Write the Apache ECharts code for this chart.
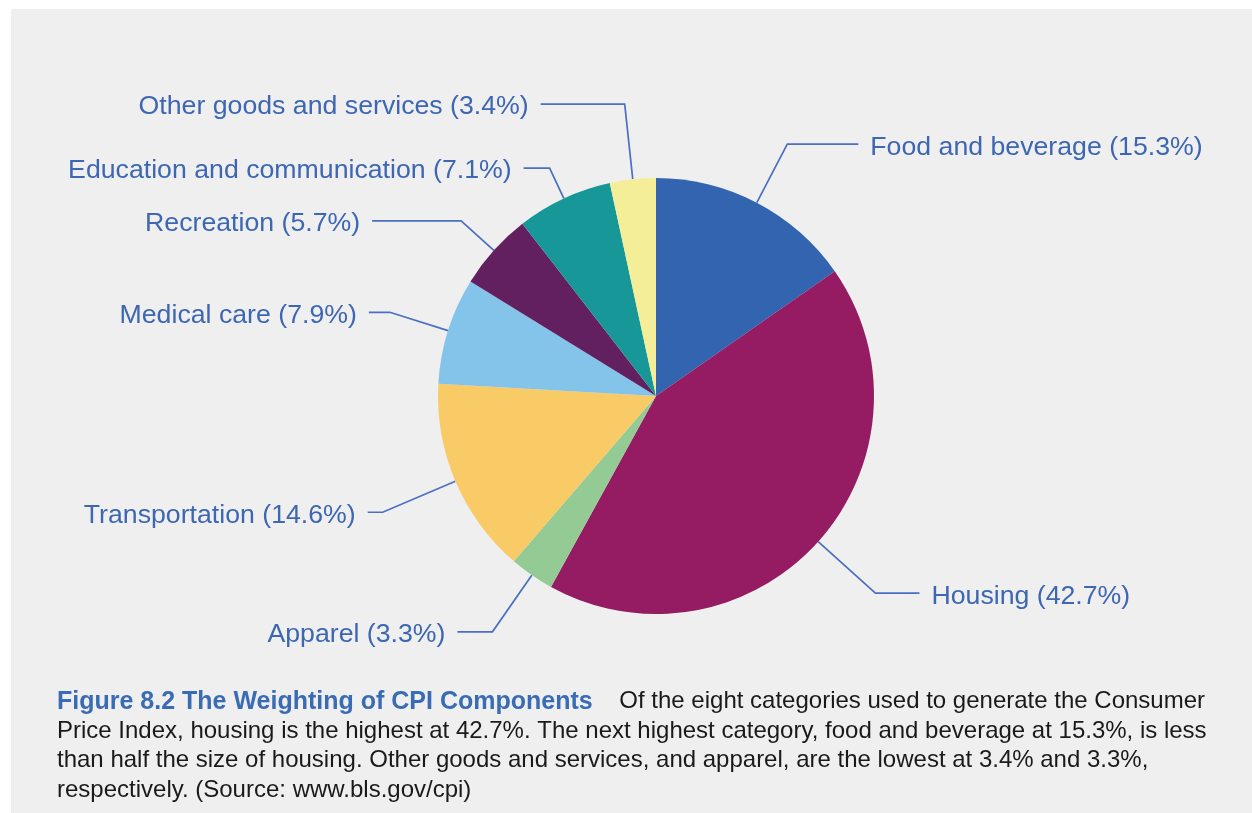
<!DOCTYPE html>
<html>
<head>
<meta charset="utf-8">
<script src="https://cdn.jsdelivr.net/npm/echarts@6/dist/echarts.min.js"></script>
<style>
  html, body { margin: 0; padding: 0; background: #ffffff; width: 1252px; height: 813px; overflow: hidden; }
  #chart { position: absolute; left: 11px; top: 9px; width: 1241px; height: 804px; background: #efefef; }
</style>
</head>
<body>
<div id="chart"></div>
<script>
// ---- Data ----
const categories = [
  'Food and beverage',
  'Housing',
  'Apparel',
  'Transportation',
  'Medical care',
  'Recreation',
  'Education and communication',
  'Other goods and services'
];
const weights = [15.3, 42.7, 3.3, 14.6, 7.9, 5.7, 7.1, 3.4];
const sliceColors = ['#3264b0', '#951c63', '#94cb94', '#f9cb67', '#85c4ea', '#622060', '#179797', '#f5ee98'];

const captionTitle = 'Figure 8.2 The Weighting of CPI Components';
const captionLines = [
  '    Of the eight categories used to generate the Consumer',
  'Price Index, housing is the highest at 42.7%. The next highest category, food and beverage at 15.3%, is less',
  'than half the size of housing. Other goods and services, and apparel, are the lowest at 3.4% and 3.3%,',
  'respectively. (Source: www.bls.gov/cpi)'
];

// ---- Leader line styling (layout only) ----
const leaderLen = [66, 77, 69, 79, 61, 44, 33.5, 75.6];
const leaderLen2 = [71, 44, 35, 15, 21, 89, 26, 84];

const chart = echarts.init(document.getElementById('chart'), null, { renderer: 'canvas' });

const pieData = categories.map((name, i) => ({
  name: name,
  value: weights[i],
  itemStyle: { color: sliceColors[i] },
  labelLine: { length: leaderLen[i], length2: leaderLen2[i] }
}));

const option = {
  animation: false,
  backgroundColor: '#efefef',
  title: {
    left: 46,
    top: 678,
    padding: 0,
    text: '{b|' + captionTitle + '}' + captionLines.join('\n'),
    textStyle: {
      fontFamily: 'Liberation Sans',
      fontSize: 24,
      fontWeight: 'normal',
      color: '#1a1a1a',
      lineHeight: 29.5,
      rich: {
        b: {
          fontFamily: 'Liberation Sans',
          fontSize: 25,
          fontWeight: 'bold',
          color: '#3a6cb6',
          lineHeight: 29.5
        }
      }
    }
  },
  series: [{
    type: 'pie',
    center: [645, 387],
    radius: [0, 218],
    startAngle: 90,
    clockwise: true,
    avoidLabelOverlap: false,
    data: pieData,
    itemStyle: { borderWidth: 0 },
    emphasis: { disabled: true },
    label: {
      show: true,
      position: 'outside',
      formatter: '{t|{b} ({c}%)}',
      fontFamily: 'Liberation Sans',
      fontSize: 26.7,
      color: '#3d66b3',
      distanceToLabelLine: 12,
      rich: {
        t: {
          fontFamily: 'Liberation Sans',
          fontSize: 26.7,
          color: '#3d66b3',
          padding: [6, 0, 0, 0]
        }
      }
    },
    labelLine: {
      show: true,
      smooth: false,
      lineStyle: { color: '#4a6fc3', width: 1.7 }
    }
  }]
};

chart.setOption(option);
</script>
</body>
</html>
